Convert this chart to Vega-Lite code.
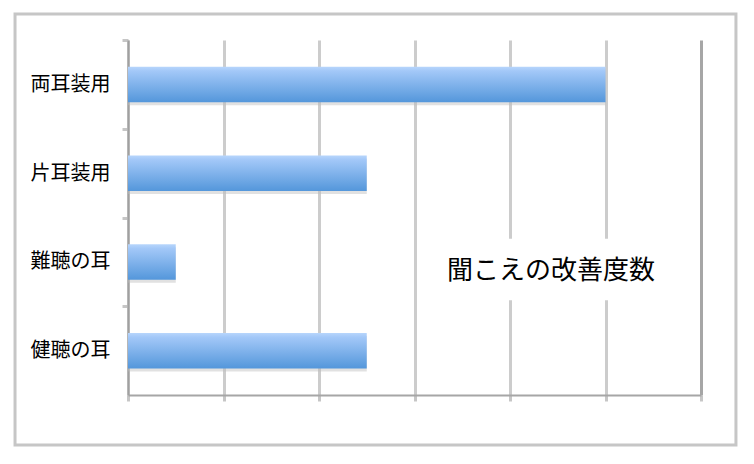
{
  "$schema": "https://vega.github.io/schema/vega-lite/v6.json",
  "width": 573,
  "height": 355,
  "autosize": "none",
  "padding": {"left": 128, "top": 40, "right": 53, "bottom": 69},
  "background": "white",
  "datasets": {
    "bars": [
      {"item": "両耳装用", "value": 5},
      {"item": "片耳装用", "value": 2.5},
      {"item": "難聴の耳", "value": 0.5},
      {"item": "健聴の耳", "value": 2.5}
    ],
    "note": [{"text": "聞こえの改善度数"}]
  },
  "layer": [
    {
      "data": {"name": "note"},
      "mark": {"type": "rect", "filled": false, "stroke": "#c6c6c6", "strokeWidth": 3},
      "encoding": {
        "x": {"datum": -1.183, "scale": {"domain": [0, 6], "nice": false}},
        "x2": {"datum": 6.366},
        "y": {"datum": -0.141, "scale": {"domain": [0, 1], "nice": false}, "axis": null},
        "y2": {"datum": 1.073}
      }
    },
    {
      "data": {"name": "bars"},
      "layer": [
        {
          "mark": {"type": "bar", "color": "#bdbdbd", "opacity": 0.45, "yOffset": 3, "x2Offset": 2},
          "encoding": {}
        },
        {
          "mark": {
            "type": "bar",
            "color": {
              "gradient": "linear", "x1": 0, "y1": 0, "x2": 0, "y2": 1,
              "stops": [
                {"offset": 0, "color": "#b8d6fc"},
                {"offset": 0.12, "color": "#a3c8f8"},
                {"offset": 1, "color": "#5497db"}
              ]
            }
          },
          "encoding": {}
        }
      ],
      "encoding": {
        "y": {
          "field": "item", "type": "nominal", "sort": null, "title": null,
          "scale": {"paddingInner": 0.6, "paddingOuter": 0.3},
          "axis": {
            "labelFont": "Noto Sans CJK JP", "labelFontSize": 20, "labelColor": "#000000",
            "labelPadding": 12, "labelOffset": 44.375, "tickSize": 6, "tickColor": "#c6c6c6", "tickWidth": 3,
            "tickOffset": -44.375, "domainColor": "#a0a0a0", "domainWidth": 2
          }
        },
        "x": {
          "field": "value", "type": "quantitative", "title": null,
          "scale": {"domain": [0, 6], "nice": false},
          "axis": {
            "values": [0, 1, 2, 3, 4, 5, 6], "labels": false, "grid": true,
            "gridColor": {"condition": {"test": "datum.value == 6", "value": "#a6a6a6"}, "value": "#cccccc"},
            "gridWidth": 3, "tickSize": 6, "tickColor": "#c6c6c6", "tickWidth": 3,
            "domainColor": "#a6a6a6", "domainWidth": 2
          }
        }
      }
    },
    {
      "data": {"name": "note"},
      "mark": {"type": "rect", "color": "white"},
      "encoding": {
        "x": {"datum": 3.22, "scale": {"domain": [0, 6], "nice": false}},
        "x2": {"datum": 5.72},
        "y": {"datum": 0.267, "scale": {"domain": [0, 1], "nice": false}, "axis": null},
        "y2": {"datum": 0.44}
      }
    },
    {
      "data": {"name": "note"},
      "mark": {"type": "text", "font": "Noto Sans CJK JP", "fontSize": 26, "color": "#000000", "align": "center", "baseline": "middle"},
      "encoding": {
        "x": {"datum": 4.43, "scale": {"domain": [0, 6], "nice": false}},
        "y": {"datum": 0.348, "scale": {"domain": [0, 1], "nice": false}, "axis": null},
        "text": {"field": "text"}
      }
    }
  ],
  "resolve": {"scale": {"y": "independent"}, "axis": {"y": "independent"}},
  "config": {"view": {"stroke": null}}
}
